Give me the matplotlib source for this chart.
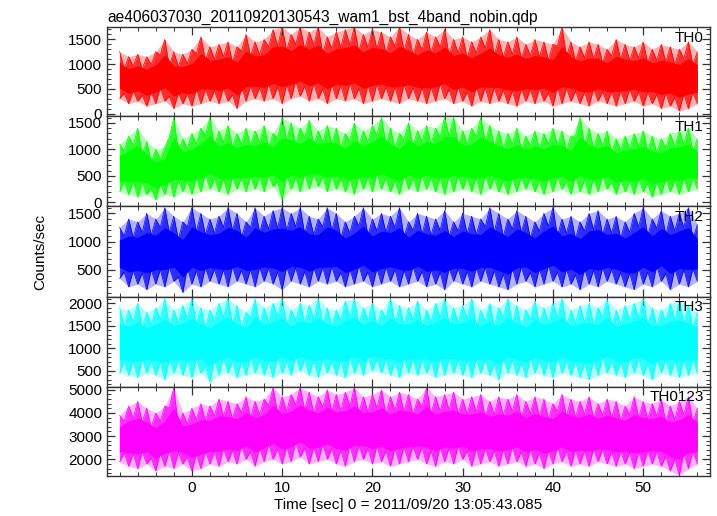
import numpy as np
import matplotlib
matplotlib.use('Agg')
import matplotlib.pyplot as plt
from matplotlib.ticker import MultipleLocator

plt.rcParams['font.family'] = ['Liberation Sans', 'DejaVu Sans']

title = 'ae406037030_20110920130543_wam1_bst_4band_nobin.qdp'
xlabel = 'Time [sec] 0 = 2011/09/20 13:05:43.085'
ylabel = 'Counts/sec'

# time of each envelope reading (sec)
t = np.arange(-8, 57)

# upper / lower envelope of the light curve, one per second
th0_hi = [1250, 1150, 1200, 1150, 1250, 1500, 1250, 1200, 1300, 1550, 1350, 1400, 1450,
          1350, 1600, 1450, 1500, 1700, 1750, 1600, 1750, 1650, 1750, 1550, 1650, 1700,
          1750, 1600, 1700, 1650, 1550, 1750, 1600, 1500, 1650, 1550, 1700, 1500, 1550,
          1450, 1550, 1700, 1500, 1450, 1550, 1400, 1500, 1450, 1400, 1750, 1450, 1350,
          1450, 1400, 1300, 1500, 1400, 1350, 1450, 1300, 1400, 1350, 1300, 1450, 1250]
th0_lo = [300, 200, 250, 150, 200, 250, 100, 200, 150, 200, 250, 200, 250, 100, 250, 300,
          250, 300, 200, 300, 350, 250, 300, 200, 300, 250, 300, 200, 250, 300, 250, 200,
          300, 250, 200, 250, 300, 200, 250, 150, 250, 200, 250, 200, 150, 250, 200, 250,
          150, 200, 250, 200, 150, 250, 200, 150, 200, 250, 150, 200, 100, 150, 50, 100, 200]

th1_hi = [1100, 1250, 1400, 1150, 1000, 1050, 1600, 1200, 1300, 1400, 1600, 1350, 1450,
          1300, 1400, 1350, 1450, 1300, 1600, 1500, 1400, 1550, 1350, 1450, 1400, 1300,
          1500, 1350, 1450, 1600, 1400, 1300, 1500, 1350, 1450, 1400, 1600, 1600, 1350,
          1400, 1600, 1450, 1350, 1300, 1400, 1250, 1350, 1300, 1400, 1350, 1250, 1600,
          1400, 1300, 1350, 1200, 1250, 1300, 1350, 1250, 1200, 1300, 1350, 1400, 1200]
th1_lo = [200, 150, 100, 150, 50, 150, 100, 200, 150, 200, 250, 200, 150, 250, 200, 250,
          200, 300, 50, 250, 200, 250, 300, 200, 250, 200, 150, 250, 200, 250, 200, 150,
          250, 200, 250, 200, 150, 200, 250, 200, 150, 250, 200, 150, 200, 250, 200, 150,
          200, 250, 150, 200, 150, 200, 250, 150, 200, 150, 200, 100, 150, 200, 150, 200, 250]

th2_hi = [1250, 1400, 1350, 1500, 1400, 1600, 1450, 1350, 1600, 1500, 1400, 1450, 1600,
          1500, 1350, 1600, 1450, 1550, 1600, 1500, 1600, 1450, 1400, 1600, 1500, 1350,
          1450, 1600, 1400, 1500, 1450, 1600, 1350, 1500, 1450, 1400, 1550, 1350, 1500,
          1450, 1400, 1600, 1500, 1400, 1550, 1450, 1350, 1500, 1600, 1400, 1450, 1350,
          1500, 1550, 1400, 1450, 1350, 1500, 1600, 1400, 1550, 1450, 1500, 1600, 1300]
th2_lo = [350, 200, 250, 150, 250, 200, 300, 100, 250, 200, 300, 250, 200, 300, 250, 200,
          300, 250, 150, 300, 250, 200, 300, 250, 300, 200, 250, 300, 200, 250, 300, 200,
          250, 300, 200, 250, 150, 300, 250, 200, 300, 250, 200, 150, 250, 300, 200, 250,
          300, 200, 250, 150, 250, 200, 300, 250, 200, 150, 250, 200, 300, 150, 250, 200, 300]

th3_hi = [1900, 1850, 2000, 1800, 1900, 2100, 1850, 1950, 2100, 1900, 1850, 2000, 2100,
          1950, 1800, 2100, 1900, 2000, 2100, 1850, 2000, 1950, 2100, 1900, 1850, 2050,
          2100, 1900, 2000, 1850, 2100, 1950, 1900, 2050, 1850, 2000, 2100, 1900, 1950,
          2100, 1850, 2000, 1900, 2100, 1950, 1850, 2050, 1900, 2000, 2100, 1850, 1950,
          2000, 1900, 2100, 1850, 1950, 2000, 2100, 1900, 1850, 2000, 2050, 1950, 1800]
th3_lo = [450, 400, 350, 450, 400, 300, 450, 400, 350, 450, 250, 400, 450, 350, 400, 450,
          400, 350, 450, 400, 500, 400, 350, 450, 400, 350, 450, 400, 500, 450, 400, 350,
          450, 400, 450, 350, 400, 450, 400, 350, 450, 400, 300, 450, 400, 350, 450, 400,
          350, 450, 400, 350, 300, 400, 450, 400, 350, 450, 400, 300, 450, 400, 350, 400, 450]

th0123_hi = [3900, 4300, 4500, 4200, 4000, 4300, 5100, 4000, 4200, 4400, 4300, 4600, 4500,
             4400, 4700, 4500, 4600, 5100, 4700, 4800, 5100, 4900, 4700, 5000, 4800, 4900,
             5100, 4700, 4800, 5000, 4700, 4900, 4800, 4600, 5100, 4700, 4800, 4900, 4600,
             4700, 4800, 4500, 4700, 4600, 4800, 4500, 4700, 4600, 4400, 4800, 4600, 4500,
             4700, 4400, 4600, 4500, 4300, 4700, 4500, 4400, 4600, 4300, 4500, 4700, 4200]
th0123_lo = [1900, 1700, 1600, 1800, 1500, 1700, 1600, 1800, 1500, 1600, 1800, 1700, 1900,
             1800, 2000, 1700, 1900, 2000, 1800, 1900, 2100, 1800, 1900, 2000, 1800, 1700,
             1900, 2000, 1800, 1900, 1700, 1800, 1900, 2000, 1800, 1700, 1900, 1800, 2000,
             1700, 1800, 1900, 1700, 1800, 1900, 1700, 1800, 1600, 1800, 1900, 1700, 1800,
             1700, 1900, 1800, 1700, 1800, 1600, 1700, 1800, 1700, 1500, 1300, 1600, 1800]

panels = [
    ('TH0', th0_hi, th0_lo, '#ff0000', (-50, 1750), [0, 500, 1000, 1500], 100),
    ('TH1', th1_hi, th1_lo, '#00ff00', (-70, 1630), [0, 500, 1000, 1500], 100),
    ('TH2', th2_hi, th2_lo, '#0000ff', (30, 1630), [500, 1000, 1500], 100),
    ('TH3', th3_hi, th3_lo, '#00ffff', (150, 2150), [500, 1000, 1500, 2000], 100),
    ('TH0123', th0123_hi, th0123_lo, '#ff00ff', (1280, 5140), [2000, 3000, 4000, 5000], 200),
]

W, H = 717, 516
fig = plt.figure(figsize=(W / 100, H / 100), dpi=100)
edges = [27, 116, 206, 296.5, 386.5, 476]
left, right = 107, 710

for i, (name, hi, lo, col, ylim, yt, ymin) in enumerate(panels):
    ax = fig.add_axes([left / W, 1 - edges[i + 1] / H, (right - left) / W,
                       (edges[i + 1] - edges[i]) / H])
    hi = np.array(hi, float)
    lo = np.array(lo, float)
    span = hi - lo
    c_hi = hi - 0.25 * span
    c_lo = lo + 0.22 * span
    # faint halo over the whole range
    ax.fill_between(t, lo, hi, color=col, alpha=0.3, lw=0)
    # spikes: teeth from the core out to each envelope reading
    tx = np.ravel(np.column_stack([t, t + 0.5]))[:-1]
    top = np.ravel(np.column_stack([hi, np.r_[c_hi[1:], c_hi[-1]]]))[:-1]
    bot = np.ravel(np.column_stack([lo, np.r_[c_lo[1:], c_lo[-1]]]))[:-1]
    ax.fill_between(tx, bot, top, color=col, alpha=0.75, lw=0)
    ax.plot(tx, top, color=col, lw=0.5)
    ax.plot(tx, bot, color=col, lw=0.5)
    # dense core
    ax.fill_between(t, c_lo, c_hi, color=col, lw=0)
    ax.plot([t[0], t[0]], [c_lo[0], c_hi[0]], color=col, lw=1)

    ax.set_xlim(-9.4, 57.4)
    ax.set_ylim(*ylim)
    ax.set_yticks(yt)
    ax.yaxis.set_minor_locator(MultipleLocator(ymin))
    ax.xaxis.set_major_locator(MultipleLocator(10))
    ax.xaxis.set_minor_locator(MultipleLocator(2))
    ax.tick_params(which='both', direction='in', top=True, right=True,
                   labelsize=11, colors='#333333', labelcolor='black')
    ax.tick_params(which='major', length=6, width=0.9)
    ax.tick_params(which='minor', length=3, width=0.7)
    for s in ax.spines.values():
        s.set_linewidth(1.0)
        s.set_color('#333333')
    if i < 4:
        ax.set_xticklabels([])
    ax.text(0.99, 0.96, name, transform=ax.transAxes, ha='right', va='top', fontsize=11)
    if i == 0:
        ax.set_title(title, loc='left', fontsize=11.2, pad=4)
    if i == 4:
        ax.set_xlabel(xlabel, fontsize=11, labelpad=2)

fig.text(40 / W, 1 - 252 / H, ylabel, rotation=90, ha='center', va='center', fontsize=11)

fig.savefig('out.png', dpi=100)
